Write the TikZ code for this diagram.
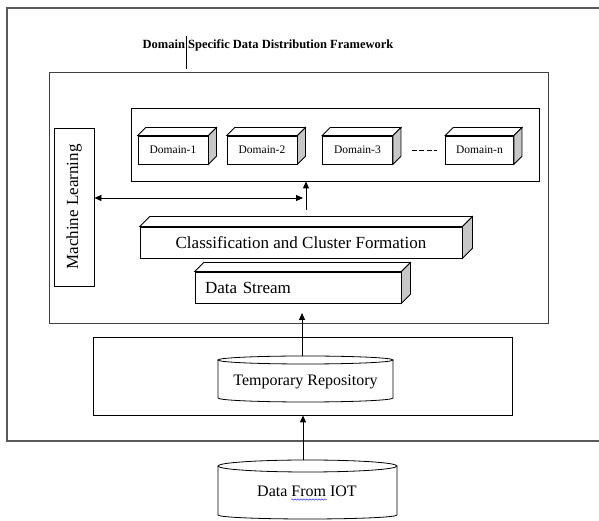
\documentclass[tikz,border=0pt]{standalone}
\usepackage{fontspec}
\setmainfont{Liberation Serif}
\usetikzlibrary{arrows.meta,calc,decorations.pathmorphing}
\tikzset{
  frameline/.style={draw=black!65, line width=1.1pt},
  plainbox/.style={draw, line width=0.8pt, rectangle, inner sep=0pt},
  frontface/.style={draw, line width=0.8pt, fill=white, rectangle, inner sep=0pt},
  sidefill/.style={draw, line width=0.8pt, fill=black!22},
  topfill/.style={draw, line width=0.8pt, fill=white},
  arr/.style={-{Triangle[length=7pt,width=6pt]}, line width=0.8pt},
  darr/.style={{Triangle[length=7pt,width=6pt]}-{Triangle[length=7pt,width=6pt]}, line width=0.8pt},
  domfont/.style={font=\fontsize{11.5}{13}\selectfont},
  bigfont/.style={font=\fontsize{17}{19}\selectfont},
  cylfont/.style={font=\fontsize{16}{18}\selectfont},
}
\newcommand\cubefaces[2]{%
  \draw[topfill] (#1.north west) -- ++(#2,#2) -- ($(#1.north east)+(#2,#2)$) -- (#1.north east) -- cycle;
  \draw[sidefill] (#1.north east) -- ++(#2,#2) -- ($(#1.south east)+(#2,#2)$) -- (#1.south east) -- cycle;}
\newcommand\cylbody[6]{% cx, Ytop, Ybot, rx, ry top, ry bottom
  \draw[line width=0.8pt, fill=white] ({#1-#4},#2) -- ({#1-#4},#3) arc[start angle=180,end angle=360,x radius=#4,y radius=#6] -- ({#1+#4},#2);
  \draw[line width=0.8pt, fill=white] (#1,#2) ellipse[x radius=#4, y radius=#5];}
\begin{document}
\begin{tikzpicture}[x=1pt,y=1pt]
\useasboundingbox (0,0) rectangle (599,521);
% outer frame (open at right)
\draw[frameline] (599,513) -- (7,513) -- (7,80) -- (599,80);
% title
\node[font=\bfseries\fontsize{12.5}{14}\selectfont] (title) at (268,476) {Domain Specific Data Distribution Framework};
\draw[line width=0.6pt] (186,485) -- (186,452);
% inner box
\node[plainbox, draw=black!75, minimum width=499pt, minimum height=251pt] (inner) at (298.5,323.5) {};
% domain container
\node[plainbox, minimum width=408pt, minimum height=73pt] (dom) at (335,376.5) {};
% domain cubes
\node[frontface, domfont, minimum width=70pt, minimum height=28pt] (d1) at (173,371) {Domain-1};
\cubefaces{d1}{8}
\node[frontface, domfont, minimum width=70pt, minimum height=28pt] (d2) at (262,371) {Domain-2};
\cubefaces{d2}{8}
\node[frontface, domfont, minimum width=70pt, minimum height=28pt] (d3) at (357.5,371) {Domain-3};
\cubefaces{d3}{8}
\node[frontface, domfont, minimum width=68pt, minimum height=28pt] (dn) at (479.5,371) {Domain-n};
\cubefaces{dn}{8}
\draw[line width=0.8pt, dash pattern=on 5pt off 2.5pt] ($(d3.east)+(19,0)$) -- ($(dn.west)+(-8,0)$);
% machine learning
\node[plainbox, minimum width=40pt, minimum height=158pt] (ml) at (74,314) {};
\node[bigfont, rotate=90] (mltext) at (ml.center) {Machine Learning};
% arrows in the middle
\coordinate (mlend) at (303,323);
\draw[darr] (ml.east |- mlend) -- (mlend);
\coordinate (vbot) at (306,311);
\draw[arr] (vbot) -- (vbot |- dom.south);
% classification and data stream
\node[frontface, bigfont, minimum width=322pt, minimum height=31pt] (cls) at (301,278.5) {Classification and Cluster Formation};
\cubefaces{cls}{10}
\node[frontface, bigfont, minimum width=206pt, minimum height=31pt, text width=186pt, align=left] (ds) at (298,233.5) {Data Stream};
\cubefaces{ds}{9}
% temporary repository
\node[plainbox, minimum width=419pt, minimum height=78pt] (tbox) at (302.5,145) {};
\cylbody{305.5}{161}{123}{87.5}{4}{4}
\node[cylfont] (tmp) at (305.5,139) {Temporary Repository};
\coordinate (tmptop) at (302,165);
\coordinate (dsin) at (302,208);
\draw[arr] (tmptop) -- (dsin);
% data from IOT
\cylbody{307.5}{55}{6}{89.5}{6}{4}
\node[cylfont] (iot) at (307,30) {Data From IOT};
\draw[blue!80, line width=0.5pt, decorate, decoration={snake, amplitude=0.7pt, segment length=3pt}] (291,21.5) -- (327,21.5);
\coordinate (iottop) at (303,61);
\draw[arr] (iottop) -- (iottop |- tbox.south);
\end{tikzpicture}
\end{document}
